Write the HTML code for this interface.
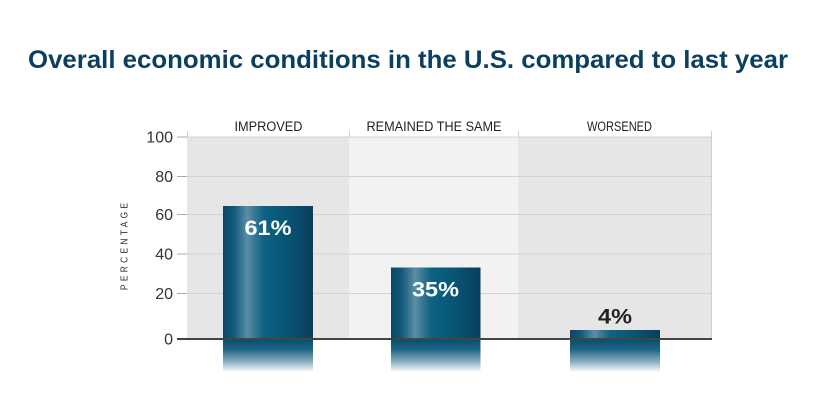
<!DOCTYPE html>
<html>
<head>
<meta charset="utf-8">
<style>
  html,body{margin:0;padding:0;background:#fff;}
  svg{display:block;}
</style>
</head>
<body>
<svg width="823" height="410" viewBox="0 0 823 410" xmlns="http://www.w3.org/2000/svg">
  <defs>
    <linearGradient id="cyl" x1="0" y1="0" x2="1" y2="0">
      <stop offset="0" stop-color="#0a4666"/>
      <stop offset="0.12" stop-color="#115a7a"/>
      <stop offset="0.27" stop-color="#5a8ea6"/>
      <stop offset="0.34" stop-color="#3d7b96"/>
      <stop offset="0.45" stop-color="#0d6283"/>
      <stop offset="0.65" stop-color="#0a5878"/>
      <stop offset="0.85" stop-color="#084a69"/>
      <stop offset="1" stop-color="#073f5b"/>
    </linearGradient>
    <linearGradient id="refl" x1="0" y1="0" x2="0" y2="1">
      <stop offset="0" stop-color="#08506f"/>
      <stop offset="0.3" stop-color="#1f6585"/>
      <stop offset="0.7" stop-color="#8fb3c5"/>
      <stop offset="1" stop-color="#ffffff"/>
    </linearGradient>
  </defs>

  <!-- Title -->
  <text x="408" y="68" text-anchor="middle" font-family="Liberation Sans, sans-serif" font-weight="bold" font-size="25" fill="#0b3f5f" textLength="760" lengthAdjust="spacingAndGlyphs">Overall economic conditions in the U.S. compared to last year</text>

  <!-- Column backgrounds -->
  <rect x="187" y="137" width="162" height="202" fill="#e6e6e6"/>
  <rect x="349" y="137" width="169" height="202" fill="#f2f2f2"/>
  <rect x="518" y="137" width="194" height="202" fill="#e6e6e6"/>

  <!-- column divider ticks on top -->
  <g stroke="#cfcfcf" stroke-width="1">
    <line x1="187.5" y1="131" x2="187.5" y2="137"/>
    <line x1="349.5" y1="131" x2="349.5" y2="137"/>
    <line x1="518.5" y1="131" x2="518.5" y2="137"/>
    <line x1="711.5" y1="131" x2="711.5" y2="339"/>
  </g>

  <!-- gridlines -->
  <g stroke="#d3d3d3" stroke-width="1">
    <line x1="187" y1="137" x2="712" y2="137"/>
    <line x1="187" y1="176.5" x2="712" y2="176.5"/>
    <line x1="187" y1="214.5" x2="712" y2="214.5"/>
    <line x1="187" y1="254" x2="712" y2="254"/>
    <line x1="187" y1="293.5" x2="712" y2="293.5"/>
  </g>
  <!-- tick marks -->
  <g stroke="#a8a8a8" stroke-width="1">
    <line x1="177" y1="137" x2="187" y2="137"/>
    <line x1="177" y1="176.5" x2="187" y2="176.5"/>
    <line x1="177" y1="214.5" x2="187" y2="214.5"/>
    <line x1="177" y1="254" x2="187" y2="254"/>
    <line x1="177" y1="293.5" x2="187" y2="293.5"/>
  </g>

  <!-- tick labels -->
  <g font-family="Liberation Sans, sans-serif" font-size="16" fill="#333" text-anchor="end">
    <text x="173" y="142.5">100</text>
    <text x="173" y="182">80</text>
    <text x="173" y="220">60</text>
    <text x="173" y="259.5">40</text>
    <text x="173" y="299">20</text>
    <text x="173" y="344.5">0</text>
  </g>

  <!-- y axis title -->
  <text transform="translate(127.5,246.5) rotate(-90) scale(0.8,1)" text-anchor="middle" font-family="Liberation Sans, sans-serif" font-size="10.5" fill="#333" textLength="109" lengthAdjust="spacing">PERCENTAGE</text>

  <!-- column headers -->
  <g font-family="Liberation Sans, sans-serif" font-size="13.5" fill="#222" text-anchor="middle">
    <text x="268.5" y="131" textLength="68" lengthAdjust="spacingAndGlyphs">IMPROVED</text>
    <text x="434" y="131" textLength="135" lengthAdjust="spacingAndGlyphs">REMAINED THE SAME</text>
    <text x="619.5" y="131" textLength="65" lengthAdjust="spacingAndGlyphs">WORSENED</text>
  </g>

  <!-- bars -->
  <rect x="223" y="206" width="90" height="133" fill="url(#cyl)"/>
  <rect x="391" y="267.5" width="89.5" height="71.5" fill="url(#cyl)"/>
  <rect x="570" y="330" width="90" height="9" fill="url(#cyl)"/>

  <!-- reflections -->
  <rect x="223" y="340" width="90" height="32" fill="url(#refl)"/>
  <rect x="391" y="340" width="89.5" height="32" fill="url(#refl)"/>
  <rect x="570" y="340" width="90" height="32" fill="url(#refl)"/>

  <!-- axis line -->
  <line x1="177" y1="339" x2="712" y2="339" stroke="#444" stroke-width="2"/>

  <!-- value labels -->
  <g font-family="Liberation Sans, sans-serif" font-weight="bold" font-size="21" text-anchor="middle">
    <text x="268" y="235" fill="#fff" textLength="47" lengthAdjust="spacingAndGlyphs">61%</text>
    <text x="435.5" y="296.5" fill="#fff" textLength="47" lengthAdjust="spacingAndGlyphs">35%</text>
    <text x="615" y="323.5" fill="#222" textLength="34" lengthAdjust="spacingAndGlyphs">4%</text>
  </g>
</svg>
</body>
</html>
